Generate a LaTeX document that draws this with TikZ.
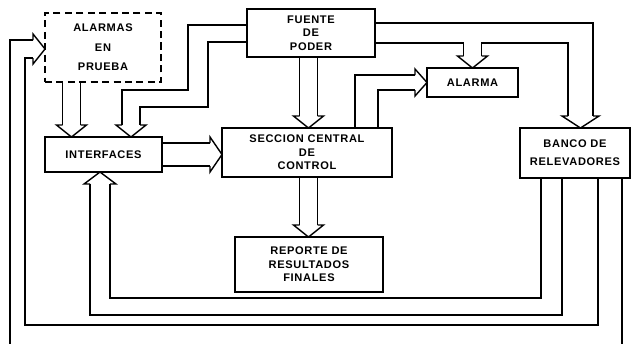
\documentclass[tikz,border=0pt]{standalone}
\usepackage{fontspec}
\setmainfont{Liberation Sans}[LetterSpace=6]
\usetikzlibrary{positioning}

\tikzset{
  blk/.style={draw, line width=1.4pt, inner sep=0pt, outer sep=0pt, align=center,
    font=\fontsize{6.3}{7.6}\selectfont\bfseries},
  pipe/.style={line width=0.8pt, line join=miter},
  wire/.style={line width=0.6pt},
  pics/dhead/.style={code={\draw[pipe] (-12,-#1) -- (-12,-#1-6) -- (0,0) -- (-12,#1+6) -- (-12,#1);}}
}

\begin{document}
\begin{tikzpicture}[x=0.02cm, y=-0.02cm]
\useasboundingbox (0,0) rectangle (643,343);
\node[blk, dash pattern=on 4pt off 2.5pt, minimum width=2.32cm, minimum height=1.38cm] (alarmas) at (103,47.5) {ALARMAS\\[3.6pt]EN\\[3.6pt]PRUEBA};
\node[blk, minimum width=2.56cm, minimum height=0.96cm] (fuente) at (311,33) {FUENTE\\DE\\PODER};
\node[blk, minimum width=1.82cm, minimum height=0.58cm] (alarma) at (472.5,82.5) {ALARMA};
\node[blk, minimum width=2.34cm, minimum height=0.70cm] (interfaces) at (103.5,154.5) {INTERFACES};
\node[blk, minimum width=3.40cm, minimum height=0.98cm] (seccion) at (307,152.5) {SECCION CENTRAL\\DE\\CONTROL};
\node[blk, minimum width=2.20cm, minimum height=1.00cm] (banco) at (575,153) {BANCO DE\\[2.5pt]RELEVADORES};
\node[blk, minimum width=2.96cm, minimum height=1.10cm] (reporte) at (309,264.5) {REPORTE DE\\RESULTADOS\\FINALES};

\draw[pipe] (62.5,0 |- alarmas.south) -- (62.5,125);
\draw[pipe] (80.5,0 |- alarmas.south) -- (80.5,125);
\pic[rotate=-90] at (71.5,0 |- interfaces.north) {dhead=9};

\draw[pipe] (fuente.west |- 0,25) -- (188,25) -- (188,90) -- (122,90) -- (122,125);
\draw[pipe] (fuente.west |- 0,42) -- (208,42) -- (208,107) -- (140,107) -- (140,125);
\pic[rotate=-90] at (131,0 |- interfaces.north) {dhead=9};

\draw[pipe] (299.5,0 |- fuente.south) -- (299.5,116);
\draw[pipe] (317.5,0 |- fuente.south) -- (317.5,116);
\pic[rotate=-90] at (308.5,0 |- seccion.north) {dhead=9};

\draw[pipe] (fuente.east |- 0,23) -- (593,23) -- (593,116);
\draw[pipe] (fuente.east |- 0,43) -- (463.5,43) -- (463.5,56);
\draw[pipe] (481.5,56) -- (481.5,43) -- (568,43) -- (568,116);
\pic[rotate=-90] at (472.5,0 |- alarma.north) {dhead=9};
\pic[rotate=-90] at (580.5,0 |- banco.north) {dhead=12.5};

\draw[pipe] (355,0 |- seccion.north) -- (355,75) -- (415,75);
\draw[pipe] (378,0 |- seccion.north) -- (378,90) -- (415,90);
\pic at (alarma.west) {dhead=7.5};

\draw[pipe] (interfaces.east |- 0,143) -- (210,143);
\draw[pipe] (interfaces.east |- 0,166) -- (210,166);
\pic at (seccion.west |- 0,154.5) {dhead=11.5};

\draw[pipe] (299.5,0 |- seccion.south) -- (299.5,225);
\draw[pipe] (317.5,0 |- seccion.south) -- (317.5,225);
\pic[rotate=-90] at (308.5,0 |- reporte.north) {dhead=9};

\draw[wire] (541,0 |- banco.south) -- (541,298) -- (110,298) -- (110,184);
\draw[wire] (562,0 |- banco.south) -- (562,315) -- (90,315) -- (90,184);
\pic[rotate=90] at (100,0 |- interfaces.south) {dhead=10};

\draw[wire] (598,0 |- banco.south) -- (598,325) -- (25,325) -- (25,58) -- (33,58);
\draw[wire] (622,0 |- banco.south) -- (622,360) -- (10,360) -- (10,40) -- (33,40);
\pic at (alarmas.west |- 0,49) {dhead=9};
\end{tikzpicture}
\end{document}
